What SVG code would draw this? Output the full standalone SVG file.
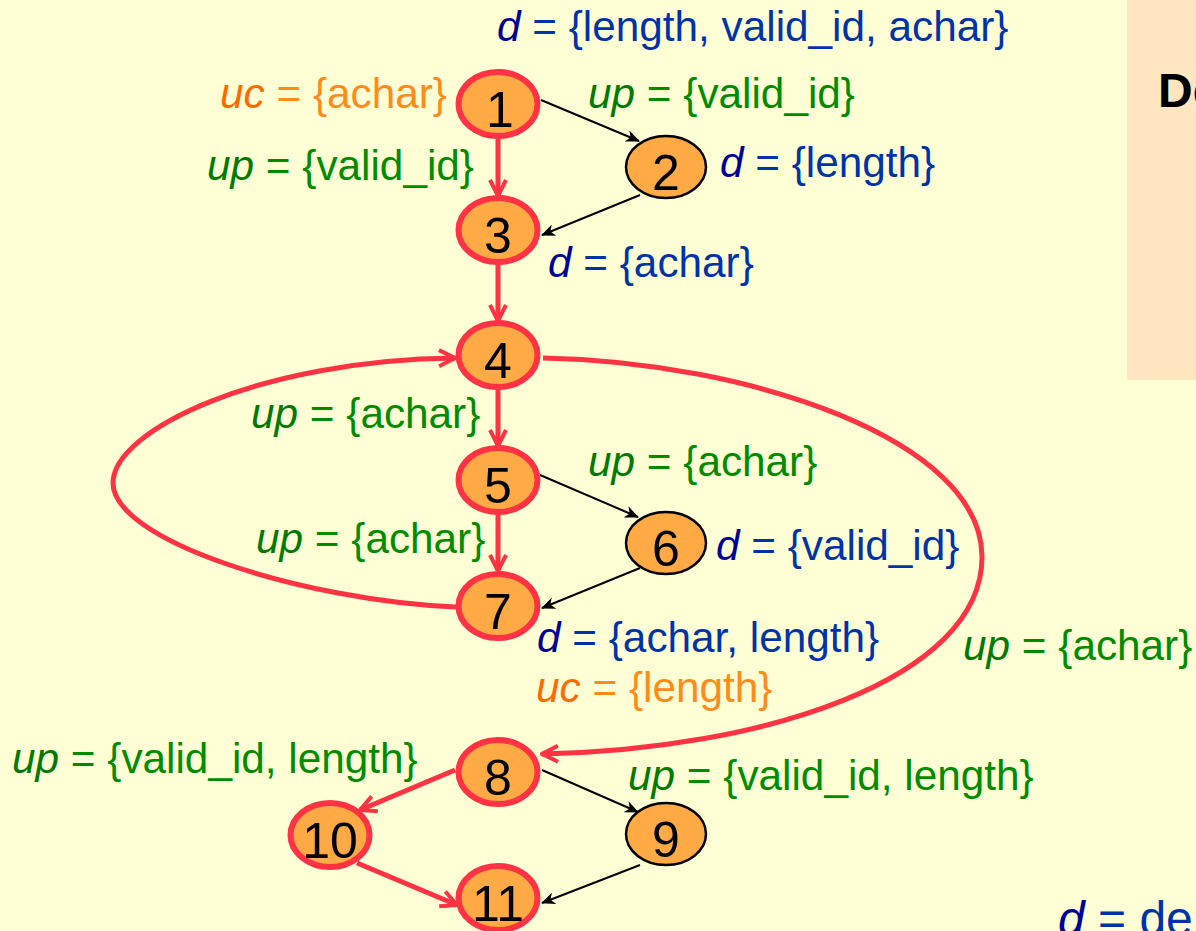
<svg xmlns="http://www.w3.org/2000/svg" width="1196" height="931" viewBox="0 0 1196 931">
<style>
text{font-family:"Liberation Sans",Arial,sans-serif;font-size:42.3px}
.n{font-size:50px;fill:#000;text-anchor:middle}
.g{fill:#008C00}.g .i{fill:#007A00}
.b{fill:#0033AA}.b .i{fill:#000099}
.o{fill:#FF8C1A}.o .i{fill:#FF6A00}
.i{font-style:italic}
.rn{fill:#FFAA44;stroke:#FF3344;stroke-width:6}
.bn{fill:#FFAA44;stroke:#000;stroke-width:2.5}
.re{fill:none;stroke:#FF3344;stroke-width:5;marker-end:url(#ra)}
.be{fill:none;stroke:#000;stroke-width:2;marker-end:url(#ba)}
</style>
<defs>
<marker id="ra" viewBox="0 0 20 20" refX="18" refY="10" markerWidth="20" markerHeight="20" markerUnits="userSpaceOnUse" orient="auto">
<path d="M2,2 L18,10 L2,18" fill="none" stroke="#FF3344" stroke-width="4" stroke-linejoin="miter"/>
</marker>
<marker id="ba" viewBox="0 0 14 12" refX="13" refY="6" markerWidth="14" markerHeight="12" markerUnits="userSpaceOnUse" orient="auto">
<path d="M0,0 L14,6 L0,12 L4,6 Z" fill="#000"/>
</marker>
</defs>
<rect width="1196" height="931" fill="#FFFFD5"/>
<rect x="1127" y="0" width="69" height="380" fill="#FFE5C0"/>
<text x="1158" y="107" style="font-size:48px;font-weight:bold" fill="#000">De</text>

<g id="connectors">
<path class="re" d="M498,137 L498,196"/>
<path class="re" d="M498,263 L498,321"/>
<path class="re" d="M498,388 L498,446"/>
<path class="re" d="M498,513 L498,571"/>
<path class="be" d="M541,100 L639,141"/>
<path class="be" d="M640,195 L542,235"/>
<path class="be" d="M540,475 L638,517"/>
<path class="be" d="M640,568 L542,608"/>
<path class="re" d="M456,607 C300,600 113,540 113,483 C113,430 260,360 455,358"/>
<path class="re" d="M543,358 C750,362 982,440 982,557 C982,680 760,750 542,754"/>
<path class="re" d="M455,770 L360,810"/>
<path class="re" d="M357,863 L457,905"/>
<path class="be" d="M542,770 L638,812"/>
<path class="be" d="M640,865 L542,903"/>
</g>

<g id="node1"><ellipse class="rn" cx="498" cy="104" rx="39.5" ry="32"/><text class="n" x="500" y="127">1</text></g>
<g id="node2"><ellipse class="bn" cx="666" cy="167" rx="40" ry="31"/><text class="n" x="666" y="190">2</text></g>
<g id="node3"><ellipse class="rn" cx="498" cy="230" rx="39.5" ry="32"/><text class="n" x="498" y="253">3</text></g>
<g id="node4"><ellipse class="rn" cx="498" cy="355" rx="39.5" ry="32"/><text class="n" x="498" y="378">4</text></g>
<g id="node5"><ellipse class="rn" cx="498" cy="480" rx="39.5" ry="32"/><text class="n" x="498" y="503">5</text></g>
<g id="node6"><ellipse class="bn" cx="666" cy="543" rx="40" ry="31"/><text class="n" x="666" y="566">6</text></g>
<g id="node7"><ellipse class="rn" cx="498" cy="606" rx="39.5" ry="32"/><text class="n" x="498" y="629">7</text></g>
<g id="node8"><ellipse class="rn" cx="498" cy="772" rx="39.5" ry="32"/><text class="n" x="498" y="795">8</text></g>
<g id="node9"><ellipse class="bn" cx="666" cy="834" rx="40" ry="31"/><text class="n" x="666" y="857">9</text></g>
<g id="node10"><ellipse class="rn" cx="330" cy="835" rx="39.5" ry="32"/><text class="n" x="330" y="858">10</text></g>
<g id="node11"><ellipse class="rn" cx="498" cy="898" rx="39.5" ry="32"/><text class="n" x="498" y="921">11</text></g>

<g id="labels">
<text class="b" x="497" y="41"><tspan class="i">d</tspan> = {length, valid_id, achar}</text>
<text class="o" x="220" y="108"><tspan class="i">uc</tspan> = {achar}</text>
<text class="g" x="588" y="108"><tspan class="i">up</tspan> = {valid_id}</text>
<text class="g" x="207" y="180"><tspan class="i">up</tspan> = {valid_id}</text>
<text class="b" x="720" y="177"><tspan class="i">d</tspan> = {length}</text>
<text class="b" x="548" y="277"><tspan class="i">d</tspan> = {achar}</text>
<text class="g" x="251" y="428"><tspan class="i">up</tspan> = {achar}</text>
<text class="g" x="588" y="476"><tspan class="i">up</tspan> = {achar}</text>
<text class="g" x="256" y="553"><tspan class="i">up</tspan> = {achar}</text>
<text class="b" x="716" y="560"><tspan class="i">d</tspan> = {valid_id}</text>
<text class="b" x="537" y="652"><tspan class="i">d</tspan> = {achar, length}</text>
<text class="o" x="536" y="702"><tspan class="i">uc</tspan> = {length}</text>
<text class="g" x="963" y="660"><tspan class="i">up</tspan> = {achar}</text>
<text class="g" x="12" y="773"><tspan class="i">up</tspan> = {valid_id, length}</text>
<text class="g" x="628" y="790"><tspan class="i">up</tspan> = {valid_id, length}</text>
<text class="b" x="1058" y="935" style="font-size:48px"><tspan class="i">d</tspan> = de</text>
</g>
</svg>
